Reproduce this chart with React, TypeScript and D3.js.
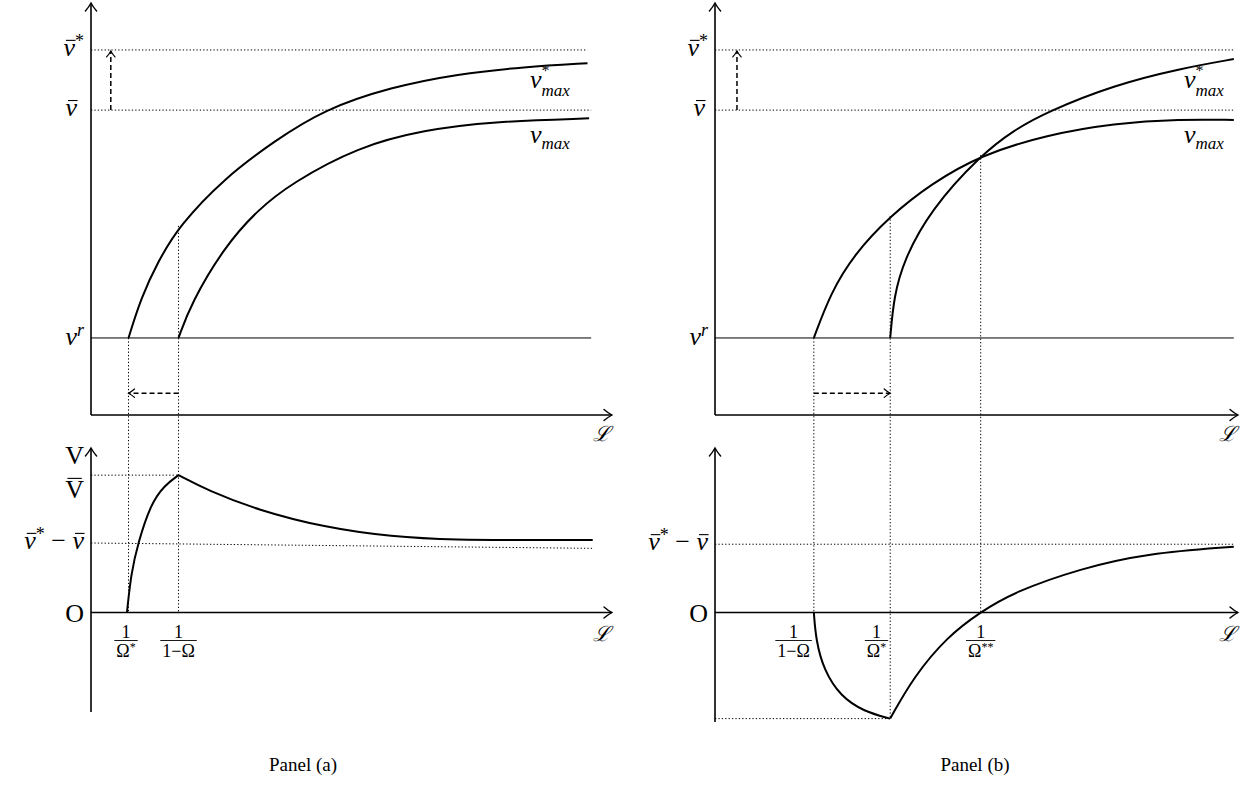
import * as d3 from 'd3';
import { useEffect, useRef } from 'react';

// levels in the upper panels (value units)
const vBarStar = 8.86;
const vBar = 7.4;
const vR = 1.87;

// panel (a), upper: [L, v]
const aVmaxStar = [[0.72, 1.87], [0.96, 2.84], [1.28, 3.71], [1.69, 4.59], [2.56, 5.75], [3.52, 6.65], [4.48, 7.42], [5.76, 7.96], [7.04, 8.28], [8.32, 8.45], [9.53, 8.54]];
const aVmax = [[1.68, 1.87], [1.92, 2.71], [2.56, 4.08], [3.2, 4.98], [3.84, 5.62], [5.12, 6.51], [6.4, 6.92], [7.68, 7.12], [9.56, 7.2]];
// panel (a), lower: V
const aVRise = [[0.69, 0], [0.77, 0.95], [0.9, 1.68], [1.15, 2.65], [1.41, 3.09], [1.68, 3.34]];
const aVFall = [[1.68, 3.34], [2.24, 2.97], [3.2, 2.49], [4.48, 2.07], [5.76, 1.84], [7.04, 1.76], [8.32, 1.76], [9.63, 1.76]];
const aGapLine = [[0, 1.69], [9.62, 1.56]];
const aVBar = 3.34;
const aOmegaStar = 0.72;
const aOneMinusOmega = 1.68;

// panel (b), upper
const bVmaxStar = [[3.35, 1.87], [3.42, 2.87], [3.61, 3.76], [4.12, 4.98], [5.08, 6.31], [5.72, 6.92], [6.35, 7.36], [7.63, 8.01], [8.9, 8.41], [9.92, 8.64]];
const bVmax = [[1.89, 1.87], [2.21, 2.96], [2.66, 3.9], [3.35, 4.83], [4.12, 5.6], [5.08, 6.31], [6.35, 6.8], [7.63, 7.08], [8.9, 7.18], [9.92, 7.16]];
// panel (b), lower
const bVFall = [[1.89, 0], [1.93, -0.67], [2.08, -1.4], [2.4, -2.04], [2.85, -2.41], [3.35, -2.58]];
const bVRise = [[3.35, -2.58], [3.8, -1.56], [4.44, -0.59], [5.06, 0], [5.72, 0.5], [6.99, 1.07], [8.26, 1.44], [9.92, 1.6]];
const bGap = 1.66;
const bOneMinusOmega = 1.89;
const bOmegaStar = 3.35;
const bOmegaStarStar = 5.08;
const bCross = 6.31;

const SERIF = "'Liberation Serif', 'DejaVu Serif', serif";

type Piece = { t: string; it?: boolean; fs?: number; dy?: number; bar?: boolean; stack?: boolean };

// one <text> per label, tspans placed by measuring
const mathLabel = (parent, x, y, pieces: Piece[], anchor = 'start', base = 26) => {
  const g = parent.append('g');
  const text = g.append('text').attr('font-family', SERIF);
  let cx = 0;
  let lastStart = 0;
  pieces.forEach((p) => {
    const start = p.stack ? lastStart : cx;
    const fs = p.fs ?? base;
    const ts = text.append('tspan')
      .attr('x', start)
      .attr('y', p.dy ?? 0)
      .attr('font-size', fs)
      .attr('font-style', p.it ? 'italic' : 'normal')
      .text(p.t);
    const w = (ts.node() as SVGTextContentElement).getComputedTextLength();
    if (p.bar) {
      const top = (p.dy ?? 0) - fs * (p.it ? 0.6 : 0.76);
      g.append('line')
        .attr('x1', start + w * (p.it ? 0.22 : 0.12)).attr('x2', start + w * (p.it ? 1.05 : 0.88))
        .attr('y1', top).attr('y2', top)
        .attr('stroke', '#000').attr('stroke-width', 1.1);
    }
    lastStart = start;
    cx = Math.max(cx, start + w);
  });
  const shift = anchor === 'end' ? -cx : anchor === 'middle' ? -cx / 2 : 0;
  g.attr('transform', `translate(${x + shift},${y})`);
};

const fraction = (parent, x, y, den: Piece[], anchor = 'middle') => {
  const g = parent.append('g');
  const d = g.append('text').attr('y', 19).attr('font-family', SERIF).attr('font-size', 18);
  den.forEach((p) => {
    d.append('tspan').attr('font-size', p.fs ?? 18).attr('dy', p.dy ?? 0).text(p.t);
  });
  const w = (d.node() as SVGTextElement).getComputedTextLength() + 4;
  d.attr('x', 2);
  g.append('line').attr('x1', 0).attr('x2', w).attr('y1', 3).attr('y2', 3).attr('stroke', '#000').attr('stroke-width', 0.9);
  g.append('text').attr('x', w / 2).attr('y', 0).attr('text-anchor', 'middle')
    .attr('font-family', SERIF).attr('font-size', 18).text('1');
  const shift = anchor === 'end' ? -w : -w / 2;
  g.attr('transform', `translate(${x + shift},${y})`);
};

const arrowHead = (g, x, y, angle, s = 8, sw = 1.4) => {
  g.append('path')
    .attr('d', `M${-s},${-s * 0.7} C${-s * 0.55},${-s * 0.3} ${-s * 0.15},${-s * 0.08} 0,0 C${-s * 0.15},${s * 0.08} ${-s * 0.55},${s * 0.3} ${-s},${s * 0.7}`)
    .attr('transform', `translate(${x},${y}) rotate(${angle})`)
    .attr('fill', 'none').attr('stroke', '#000').attr('stroke-width', sw).attr('stroke-linecap', 'round');
};

const drawPanel = (svg, cfg) => {
  const { x, yTop, yBot, xEnd, yBotMin } = cfg;
  const g = svg.append('g');
  const dotted = (x1, y1, x2, y2) => g.append('line')
    .attr('x1', x1).attr('y1', y1).attr('x2', x2).attr('y2', y2)
    .attr('stroke', '#000').attr('stroke-width', 1).attr('stroke-dasharray', '1.3,2.1');
  const solid = (x1, y1, x2, y2, w) => g.append('line')
    .attr('x1', x1).attr('y1', y1).attr('x2', x2).attr('y2', y2)
    .attr('stroke', '#000').attr('stroke-width', w);
  const dashedArrow = (x1, y1, x2, y2, angle) => {
    g.append('line').attr('x1', x1).attr('y1', y1).attr('x2', x2).attr('y2', y2)
      .attr('stroke', '#000').attr('stroke-width', 1.5).attr('stroke-dasharray', '5,3');
    arrowHead(g, x2, y2, angle, 6, 1.2);
  };
  const line = d3.line().curve(d3.curveBasis);
  const curve = (pts, ys) => g.append('path')
    .attr('d', line(pts.map(([a, b]) => [x(a), ys(b)])))
    .attr('fill', 'none').attr('stroke', '#000').attr('stroke-width', 2);

  // dotted guides
  dotted(x(0), yTop(vBarStar), x(cfg.guideEnd), yTop(vBarStar));
  dotted(x(0), yTop(vBar), x(cfg.guideEnd2), yTop(vBar));
  cfg.verticals.forEach(([vx, from, to]) => dotted(x(vx), yTop(from), x(vx), yBot(to)));
  cfg.lowGuides.forEach(([x1, y1, x2, y2]) => dotted(x(x1), yBot(y1), x(x2), yBot(y2)));

  // v^r level
  solid(x(0), yTop(vR), x(cfg.guideEnd2), yTop(vR), 1);

  // axes
  solid(x(0), yTop(0), x(0), yTop(10), 1.6);
  arrowHead(g, x(0), yTop(10), -90);
  solid(x(0), yTop(0), x(xEnd), yTop(0), 1.6);
  arrowHead(g, x(xEnd), yTop(0), 0);
  solid(x(0), yBot(yBotMin), x(0), yBot(4), 1.6);
  arrowHead(g, x(0), yBot(4), -90);
  solid(x(0), yBot(0), x(xEnd), yBot(0), 1.4);
  arrowHead(g, x(xEnd), yBot(0), 0);

  // dashed arrows
  dashedArrow(x(cfg.upArrowX), yTop(vBar), x(cfg.upArrowX), yTop(vBarStar) + 1, -90);
  const [h0, h1] = cfg.hArrow;
  dashedArrow(x(h0), yTop(0.53), x(h1), yTop(0.53), h1 > h0 ? 0 : 180);

  cfg.curves.forEach(([pts, which]) => curve(pts, which === 'top' ? yTop : yBot));

  // labels
  const lx = x(0) - 7;
  mathLabel(g, lx, yTop(vBarStar) + 6, [{ t: 'v', it: true, bar: true }, { t: '*', fs: 18, dy: -9 }], 'end');
  mathLabel(g, lx - cfg.vBarShift, yTop(vBar) + 6, [{ t: 'v', it: true, bar: true }], 'end');
  mathLabel(g, lx, yTop(vR) + 7, [{ t: 'v', it: true }, { t: 'r', it: true, fs: 18, dy: -9 }], 'end');
  cfg.lowLabels.forEach(([val, off, pieces]) => mathLabel(g, lx, yBot(val) + off, pieces, 'end'));

  const vm = cfg.vmaxLabelX;
  mathLabel(g, vm, 88, [{ t: 'v', it: true }, { t: '*', fs: 16, dy: -12 }, { t: 'max', it: true, fs: 17, dy: 8, stack: true }]);
  mathLabel(g, vm, 143, [{ t: 'v', it: true }, { t: 'max', it: true, fs: 17, dy: 6 }]);

  [yTop(0) + 26, yBot(0) + 28].forEach((yy) => {
    g.append('text').attr('x', x(xEnd) - 11).attr('y', yy).attr('text-anchor', 'middle')
      .attr('font-family', "'DejaVu Serif', serif").attr('font-style', 'italic').attr('font-size', 21).text('ℒ');
  });

  cfg.fracs.forEach(([fx, dx, den, anchor]) => fraction(g, x(fx) + dx, yBot(0) + 25, den, anchor));

  svg.append('text').attr('x', cfg.titleX).attr('y', 771).attr('text-anchor', 'middle')
    .attr('font-family', SERIF).attr('font-size', 19).text(cfg.title);
};

const App = () => {
  const ref = useRef(null);

  useEffect(() => {
    ref.current.innerHTML = '';
    const svg = d3.select(ref.current).append('svg')
      .attr('width', 1246).attr('height', 788).attr('viewBox', [0, 0, 1246, 788])
      .style('display', 'block').style('background', '#fff');

    const yTop = d3.scaleLinear([0, 10], [415, 3]);
    const yBot = d3.scaleLinear([0, 4], [612.5, 448]);

    const gap: Piece[] = [{ t: 'v', it: true, bar: true }, { t: '*', fs: 18, dy: -9 }, { t: '\u00a0−\u00a0' }, { t: 'v', it: true, bar: true }];
    const omStar: Piece[] = [{ t: 'Ω' }, { t: '*', fs: 12, dy: -6 }];
    const omStar2: Piece[] = [{ t: 'Ω' }, { t: '**', fs: 12, dy: -6 }];
    const oneMinus: Piece[] = [{ t: '1−Ω' }];

    drawPanel(svg, {
      title: 'Panel (a)', titleX: 303,
      x: d3.scaleLinear([0, 10], [91, 612]), yTop, yBot, xEnd: 10, yBotMin: -2.42,
      guideEnd: 9.53, guideEnd2: 9.6, vBarShift: 7,
      verticals: [[aOmegaStar, vR, 0], [aOneMinusOmega, 4.59, 0]],
      lowGuides: [[0, aVBar, aOneMinusOmega, aVBar], [aGapLine[0][0], aGapLine[0][1], aGapLine[1][0], aGapLine[1][1]]],
      upArrowX: 0.38, hArrow: [aOneMinusOmega, aOmegaStar],
      curves: [[aVmaxStar, 'top'], [aVmax, 'top'], [aVRise, 'bot'], [aVFall, 'bot']],
      lowLabels: [
        [4, 16, [{ t: 'V', fs: 26 }]],
        [aVBar, 23, [{ t: 'V', fs: 26, bar: true }]],
        [aGapLine[0][1], 6, gap],
        [0, 9, [{ t: 'O', fs: 26 }]],
      ],
      vmaxLabelX: 530,
      fracs: [[aOmegaStar, -2.5, omStar, 'middle'], [aOneMinusOmega, 0, oneMinus, 'middle']],
    });

    drawPanel(svg, {
      title: 'Panel (b)', titleX: 975,
      x: d3.scaleLinear([0, 10], [715, 1238]), yTop, yBot, xEnd: 10, yBotMin: -2.66,
      guideEnd: 9.92, guideEnd2: 9.92, vBarShift: 3,
      verticals: [[bOneMinusOmega, vR, 0], [bOmegaStar, 4.83, -2.58], [bOmegaStarStar, bCross, 0]],
      lowGuides: [[0, bGap, 9.92, bGap], [0, -2.58, bOmegaStar, -2.58]],
      upArrowX: 0.42, hArrow: [bOneMinusOmega, bOmegaStar],
      curves: [[bVmaxStar, 'top'], [bVmax, 'top'], [bVFall, 'bot'], [bVRise, 'bot']],
      lowLabels: [
        [bGap, 6, gap],
        [0, 9, [{ t: 'O', fs: 26 }]],
      ],
      vmaxLabelX: 1184,
      fracs: [[bOneMinusOmega, -2, oneMinus, 'end'], [bOmegaStar, -2, omStar, 'end'], [bOmegaStarStar, 0, omStar2, 'middle']],
    });
  }, []);

  return <div ref={ref} style={{ position: 'absolute', left: 0, top: 0 }} />;
};

export default App;
